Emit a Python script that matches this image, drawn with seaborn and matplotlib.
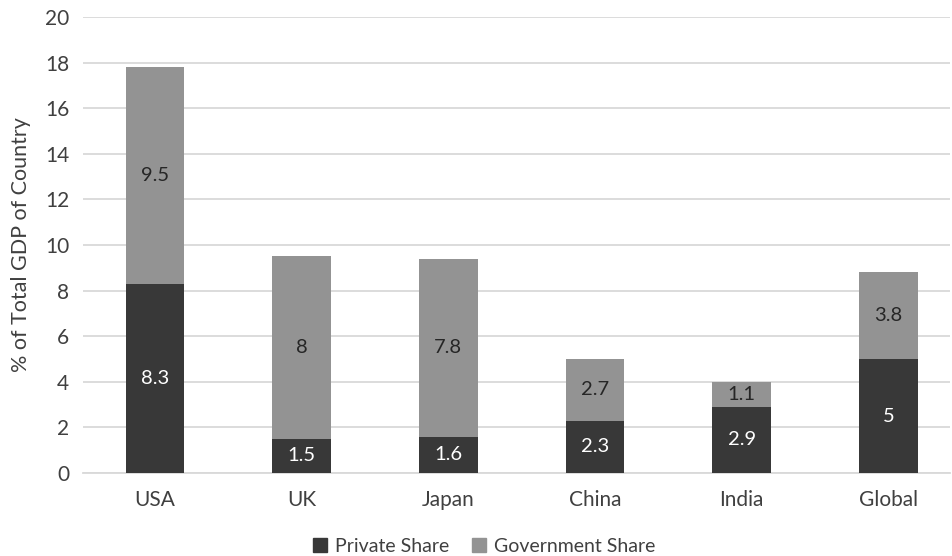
import matplotlib
matplotlib.use("Agg")
import matplotlib.pyplot as plt
import seaborn as sns
import pandas as pd
from matplotlib.patches import Patch

countries = ["USA", "UK", "Japan", "China", "India", "Global"]
private_share = [8.3, 1.5, 1.6, 2.3, 2.9, 5]
government_share = [9.5, 8, 7.8, 2.7, 1.1, 3.8]
private_labels = ["8.3", "1.5", "1.6", "2.3", "2.9", "5"]
government_labels = ["9.5", "8", "7.8", "2.7", "1.1", "3.8"]
y_ticks = [0, 2, 4, 6, 8, 10, 12, 14, 16, 18, 20]

sns.set_theme(style="white")
plt.rcParams['font.family'] = ['Lato', 'DejaVu Sans']

PRIV = "#383838"
GOV = "#939393"
TXT = "#404040"

df = pd.DataFrame({
    "country": countries,
    "private": private_share,
    "government": government_share,
})
df["total"] = df["private"] + df["government"]

fig = plt.figure(figsize=(9.53, 5.56), dpi=100)
ax = fig.add_axes([83 / 953, 1 - 473 / 556, (950 - 83) / 953, (473 - 17) / 556])

sns.barplot(data=df, x="country", y="total", color=GOV, width=0.4,
            saturation=1, linewidth=0, ax=ax, zorder=3)
sns.barplot(data=df, x="country", y="private", color=PRIV, width=0.4,
            saturation=1, linewidth=0, ax=ax, zorder=4)

for i, (p, g) in enumerate(zip(private_share, government_share)):
    ax.text(i, p / 2, private_labels[i], ha="center", va="center",
            color="white", fontsize=14.5, zorder=5)
    ax.text(i, p + g / 2, government_labels[i], ha="center", va="center",
            color="#262626", fontsize=14.5, zorder=5)

ax.set_ylim(0, 20)
ax.set_xlim(-0.49, 5.42)
ax.set_yticks(y_ticks)
ax.set_yticklabels([str(t) for t in y_ticks])
ax.yaxis.grid(True, color="#d9d9d9", linewidth=1.3, zorder=0)
ax.set_axisbelow(True)
for s in ax.spines.values():
    s.set_visible(False)
ax.spines["bottom"].set_visible(True)
ax.spines["bottom"].set_color("#d9d9d9")
ax.spines["bottom"].set_linewidth(1.3)
ax.tick_params(axis="both", length=0, labelsize=15, colors=TXT, pad=10)
ax.tick_params(axis="x", pad=12)
ax.set_xlabel("")
ax.set_ylabel("% of Total GDP of Country", fontsize=15.5, color=TXT, labelpad=10)

handles = [Patch(color=PRIV, label="Private Share"),
           Patch(color=GOV, label="Government Share")]
fig.legend(handles=handles, loc="center", bbox_to_anchor=(0.508, 1 - 546 / 556),
           ncol=2, frameon=False, fontsize=14, handlelength=0.7, handleheight=0.7,
           columnspacing=1.2, handletextpad=0.4, labelcolor=TXT)

fig.savefig("out.png", dpi=100)
